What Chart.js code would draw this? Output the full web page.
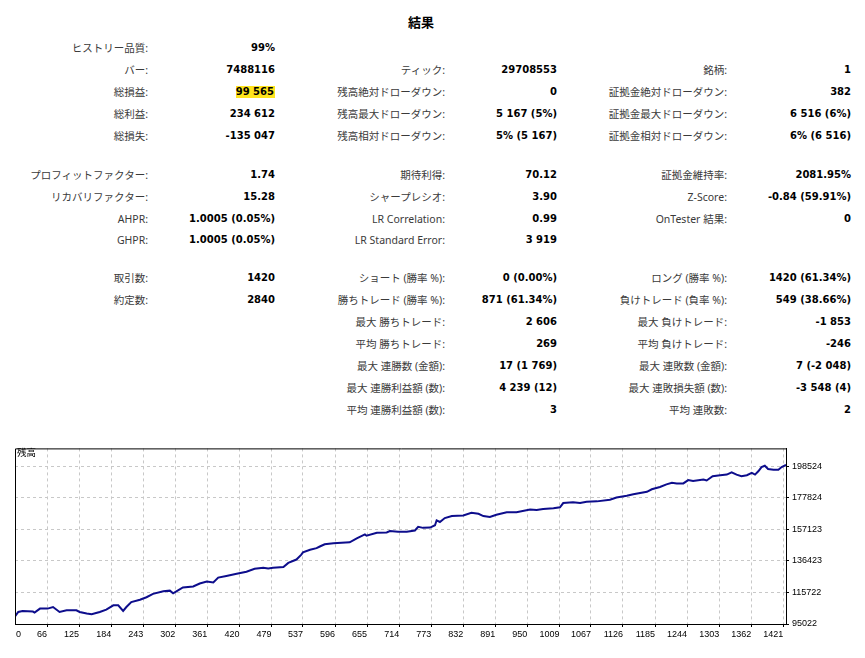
<!DOCTYPE html>
<html>
<head>
<meta charset="utf-8">
<script src="https://cdn.jsdelivr.net/npm/chart.js@4.4.1/dist/chart.umd.min.js"></script>
<style>
html,body{margin:0;padding:0;background:#fff;}
#page{position:relative;width:865px;height:658px;overflow:hidden;background:#fff;}
.t{position:absolute;white-space:nowrap;line-height:14px;height:14px;text-align:right;}
.lab{font-family:"Noto Sans","Noto Sans CJK JP",sans-serif;font-size:10.5px;color:#3a3a3a;}
.val{font-family:"DejaVu Sans",sans-serif;font-weight:bold;font-size:10px;color:#000;}
.hl{background:#ffe41c;display:inline-block;line-height:11.5px;padding:0 1px 0 0;}
#title{position:absolute;left:0;width:842px;top:13px;text-align:center;font-family:"Noto Sans CJK JP",sans-serif;font-weight:bold;font-size:13px;line-height:18px;color:#000;}
#chartBox{position:absolute;left:0;top:440px;width:865px;height:218px;}
#balLabel{position:absolute;left:17px;top:446px;font-family:"Noto Sans CJK JP",sans-serif;font-size:9.5px;line-height:12px;color:#000;}
</style>
</head>
<body>
<div id="page">
  <div id="title">結果</div>
  <div id="chartBox"><canvas id="c" width="865" height="218"></canvas></div>
  <div id="balLabel">残高</div>
</div>
<script>
// ---- report table ----
const rowY = [48, 70, 92, 114, 136, 175, 197, 219, 240, 278, 300, 322, 344, 366, 388, 410];

const g1Rows = [0, 1, 2, 3, 4, 5, 6, 7, 8, 9, 10];
const g1Labels = ["ヒストリー品質:", "バー:", "総損益:", "総利益:", "総損失:", "プロフィットファクター:", "リカバリファクター:", "AHPR:", "GHPR:", "取引数:", "約定数:"];
const g1Values = ["99%", "7488116", "99 565", "234 612", "-135 047", "1.74", "15.28", "1.0005 (0.05%)", "1.0005 (0.05%)", "1420", "2840"];

const g2Rows = [1, 2, 3, 4, 5, 6, 7, 8, 9, 10, 11, 12, 13, 14, 15];
const g2Labels = ["ティック:", "残高絶対ドローダウン:", "残高最大ドローダウン:", "残高相対ドローダウン:", "期待利得:", "シャープレシオ:", "LR Correlation:", "LR Standard Error:", "ショート (勝率 %):", "勝ちトレード (勝率 %):", "最大 勝ちトレード:", "平均 勝ちトレード:", "最大 連勝数 (金額):", "最大 連勝利益額 (数):", "平均 連勝利益額 (数):"];
const g2Values = ["29708553", "0", "5 167 (5%)", "5% (5 167)", "70.12", "3.90", "0.99", "3 919", "0 (0.00%)", "871 (61.34%)", "2 606", "269", "17 (1 769)", "4 239 (12)", "3"];

const g3Rows = [1, 2, 3, 4, 5, 6, 7, 9, 10, 11, 12, 13, 14, 15];
const g3Labels = ["銘柄:", "証拠金絶対ドローダウン:", "証拠金最大ドローダウン:", "証拠金相対ドローダウン:", "証拠金維持率:", "Z-Score:", "OnTester 結果:", "ロング (勝率 %):", "負けトレード (負率 %):", "最大 負けトレード:", "平均 負けトレード:", "最大 連敗数 (金額):", "最大 連敗損失額 (数):", "平均 連敗数:"];
const g3Values = ["1", "382", "6 516 (6%)", "6% (6 516)", "2081.95%", "-0.84 (59.91%)", "0", "1420 (61.34%)", "549 (38.66%)", "-1 853", "-246", "7 (-2 048)", "-3 548 (4)", "2"];

const highlightValue = "99 565";

// ---- balance chart ----
const tradeNo = [7, 13, 21, 40, 43, 53, 67, 77, 89, 102, 120, 126, 139, 148, 163, 175, 188, 197, 206, 212,
  221, 237, 249, 261, 280, 292, 298, 304, 316, 335, 347, 360, 372, 381, 396, 415, 433, 448, 464, 473,
  482, 501, 510, 525, 534, 537, 550, 562, 568, 577, 593, 623, 636, 651, 654, 673, 691, 697, 712, 728,
  743, 749, 758, 771, 780, 783, 789, 798, 811, 832, 847, 860, 869, 881, 893, 912, 930, 955, 967, 979,
  998, 1010, 1016, 1034, 1047, 1059, 1078, 1102, 1114, 1133, 1145, 1170, 1179, 1194, 1206, 1216, 1225, 1237, 1246, 1255,
  1274, 1280, 1291, 1305, 1317, 1326, 1335, 1344, 1354, 1363, 1369, 1375, 1381, 1387, 1393, 1403, 1412, 1418, 1426];
const balance = [100000, 102944, 103588, 103202, 102558, 105134, 105134, 106164, 102944, 104039, 104039, 102944, 101914, 101463, 102944, 104490, 107260, 107260, 103588, 106164,
  109385, 110931, 112605, 114795, 116470, 116921, 115181, 116470, 119046, 119690, 121622, 122911, 122266, 125487, 126582, 128063, 129351, 131283, 131928, 131541,
  131928, 132379, 135148, 137338, 140558, 142040, 143779, 144809, 145904, 147386, 148030, 148674, 151250, 153827, 152989, 154922, 155115, 156017, 155566, 155566,
  156403, 158786, 158142, 158335, 159881, 163101, 162006, 164583, 165871, 166322, 167996, 167352, 165871, 165227, 166709, 168447, 168447, 170185, 169928, 170572,
  171023, 171667, 174437, 174888, 174437, 175339, 175532, 176627, 178108, 179203, 180234, 181780, 183454, 185000, 186675, 187770, 187319, 187319, 189509, 188865,
  189895, 189251, 192085, 192730, 193116, 194662, 193116, 192085, 192730, 194210, 193116, 195307, 198075, 198913, 196787, 196336, 196336, 198075, 199565];

const xTickLabels = [0, 66, 125, 184, 243, 302, 361, 420, 479, 537, 596, 655, 714, 773, 832, 891, 950, 1009, 1067, 1126, 1185, 1244, 1303, 1362, 1421];
const yTickLabels = [95022, 115722, 136423, 157123, 177824, 198524];
const X_MIN = 7, X_MAX = 1426;
const Y_MIN = 95022, Y_MAX = 210312;

// build table
const page = document.getElementById('page');
function addGroup(rows, labels, values, labelRight, valueRight) {
  rows.forEach((r, i) => {
    const y = rowY[r];
    const l = document.createElement('div');
    l.className = 't lab';
    l.style.right = (865 - labelRight) + 'px';
    l.style.top = (y - 7) + 'px';
    l.textContent = labels[i];
    page.appendChild(l);
    const v = document.createElement('div');
    v.className = 't val';
    v.style.right = (865 - valueRight) + 'px';
    v.style.top = (y - 7) + 'px';
    if (values[i] === highlightValue && labelRight < 300) {
      const s = document.createElement('span');
      s.className = 'hl';
      s.textContent = values[i];
      v.appendChild(s);
    } else {
      v.textContent = values[i];
    }
    page.appendChild(v);
  });
}
addGroup(g1Rows, g1Labels, g1Values, 148, 275);
addGroup(g2Rows, g2Labels, g2Values, 445, 557);
addGroup(g3Rows, g3Labels, g3Values, 727, 851);

const GRID = '#c8c8c8';
const framePlugin = {
  id: 'frame',
  afterDraw(chart) {
    const a = chart.chartArea, ctx = chart.ctx;
    ctx.save();
    ctx.strokeStyle = '#000';
    ctx.lineWidth = 1;
    ctx.beginPath();
    ctx.moveTo(a.left + 0.5, a.bottom);
    ctx.lineTo(a.left + 0.5, a.top + 0.5);
    ctx.lineTo(a.right + 1, a.top + 0.5);
    ctx.stroke();
    ctx.restore();
  }
};

new Chart(document.getElementById('c'), {
  type: 'line',
  data: {
    datasets: [{
      data: tradeNo.map((x, i) => ({x: x, y: balance[i]})),
      borderColor: '#0d0d8c',
      borderWidth: 2,
      pointRadius: 0,
      tension: 0,
      fill: false
    }]
  },
  options: {
    responsive: false,
    animation: false,
    layout: {padding: {left: 15, top: 5, right: 0, bottom: 0}},
    plugins: {legend: {display: false}, tooltip: {enabled: false}, title: {display: false}},
    scales: {
      x: {
        type: 'linear', position: 'bottom', min: X_MIN, max: X_MAX,
        afterBuildTicks: s => { s.ticks = xTickLabels.map((v, i) => ({value: i === 0 ? X_MIN + 11 : v})); },
        afterFit: s => { s.height = 34; },
        ticks: {
          autoSkip: false, maxRotation: 0, minRotation: 0, align: 'end', padding: 2,
          color: '#000', font: {family: 'Liberation Sans', size: 9},
          callback: (v, i) => String(xTickLabels[i])
        },
        grid: {
          color: c => c.index === 0 ? 'rgba(0,0,0,0)' : GRID,
          tickColor: c => c.index === 0 ? 'rgba(0,0,0,0)' : '#000',
          tickLength: 3, lineWidth: 1
        },
        border: {display: true, color: '#000', width: 1, dash: [3, 3]}
      },
      y: {
        type: 'linear', position: 'right', min: Y_MIN, max: Y_MAX,
        afterBuildTicks: s => { s.ticks = yTickLabels.map(v => ({value: v})); },
        afterFit: s => { s.width = 79; },
        ticks: {
          padding: 3, color: '#000', font: {family: 'Liberation Sans', size: 9},
          callback: v => String(v)
        },
        grid: {color: GRID, tickColor: '#000', tickLength: 3, lineWidth: 1},
        border: {display: true, color: '#000', width: 1, dash: [3, 3]}
      }
    }
  },
  plugins: [framePlugin]
});
</script>
</body>
</html>
